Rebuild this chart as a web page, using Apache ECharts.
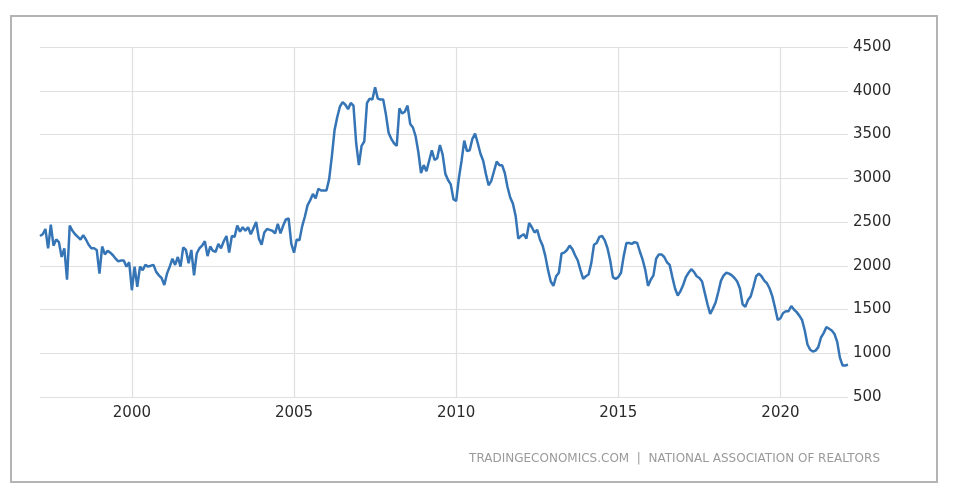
<!DOCTYPE html>
<html>
<head>
<meta charset="utf-8">
<script src="https://cdn.jsdelivr.net/npm/echarts@6/dist/echarts.min.js"></script>
<style>html,body{margin:0;padding:0;background:#fff;}#c{width:958px;height:492px;}</style>
</head>
<body>
<div id="c"></div>
<script>
// Monthly series starts March 1997, ends February 2022
const startYear = 1997, startMonth = 3;
const tickYears = ['2000', '2005', '2010', '2015', '2020'];
const yTicks = [500, 1000, 1500, 2000, 2500, 3000, 3500, 4000, 4500];
const source = 'TRADINGECONOMICS.COM  |  NATIONAL ASSOCIATION OF REALTORS';

const values1997 = [2340, 2360, 2420, 2200, 2470, 2230, 2300, 2270, 2100, 2200]; // Mar-Dec 1997
const values = [].concat(
  values1997,
  [1840, 2460, 2400, 2360, 2330, 2300, 2350, 2300, 2240, 2200, 2200, 2180], // 1998
  [1910, 2220, 2130, 2170, 2150, 2120, 2080, 2050, 2060, 2060, 1990, 2040], // 1999
  [1720, 1990, 1760, 1990, 1950, 2010, 1990, 2000, 2010, 1930, 1890, 1860], // 2000
  [1780, 1910, 1990, 2080, 2010, 2100, 1990, 2210, 2180, 2030, 2180, 1890], // 2001
  [2140, 2200, 2230, 2280, 2110, 2220, 2170, 2160, 2250, 2200, 2280, 2340], // 2002
  [2150, 2340, 2330, 2460, 2390, 2440, 2400, 2440, 2360, 2430, 2500, 2310], // 2003
  [2240, 2380, 2420, 2410, 2400, 2370, 2480, 2370, 2460, 2530, 2540, 2250], // 2004
  [2150, 2300, 2290, 2450, 2560, 2690, 2750, 2820, 2770, 2880, 2860, 2860], // 2005
  [2860, 2990, 3250, 3550, 3700, 3820, 3870, 3840, 3790, 3860, 3830, 3400], // 2006
  [3150, 3370, 3420, 3860, 3910, 3900, 4040, 3910, 3900, 3900, 3730, 3520], // 2007
  [3450, 3400, 3370, 3800, 3740, 3760, 3830, 3620, 3580, 3480, 3300, 3060], // 2008
  [3150, 3080, 3200, 3320, 3210, 3230, 3380, 3270, 3050, 2980, 2930, 2760], // 2009
  [2740, 3000, 3200, 3430, 3310, 3320, 3450, 3510, 3400, 3280, 3200, 3050], // 2010
  [2920, 2970, 3080, 3190, 3150, 3150, 3060, 2900, 2780, 2710, 2570, 2310], // 2011
  [2340, 2360, 2310, 2490, 2440, 2380, 2410, 2300, 2230, 2110, 1950, 1820], // 2012
  [1770, 1880, 1920, 2140, 2150, 2180, 2230, 2190, 2120, 2060, 1950, 1850], // 2013
  [1880, 1900, 2030, 2240, 2260, 2330, 2340, 2290, 2200, 2060, 1870, 1850], // 2014
  [1870, 1920, 2110, 2260, 2260, 2250, 2270, 2260, 2160, 2070, 1950, 1770], // 2015
  [1840, 1890, 2080, 2130, 2130, 2100, 2040, 2010, 1870, 1740, 1660, 1710], // 2016
  [1780, 1870, 1920, 1960, 1930, 1880, 1860, 1820, 1690, 1560, 1450, 1510], // 2017
  [1580, 1700, 1830, 1890, 1920, 1910, 1890, 1860, 1820, 1740, 1560, 1530], // 2018
  [1610, 1650, 1760, 1880, 1910, 1880, 1830, 1800, 1740, 1650, 1520, 1380], // 2019
  [1400, 1460, 1480, 1480, 1540, 1500, 1470, 1430, 1380, 1260, 1100, 1040], // 2020
  [1020, 1030, 1070, 1180, 1230, 1300, 1280, 1260, 1220, 1130, 950, 860],   // 2021
  [860, 870]                                                                // 2022
);

const categories = values.map((v, i) => {
  const t = (startMonth - 1) + i;
  const y = startYear + Math.floor(t / 12);
  const m = (t % 12) + 1;
  return y + '-' + (m < 10 ? '0' + m : m);
});

const isTick = (idx, val) => val.slice(5) === '01' && tickYears.indexOf(val.slice(0, 4)) >= 0;

const chart = echarts.init(document.getElementById('c'), null, {renderer: 'canvas'});
chart.setOption({
  animation: false,
  backgroundColor: '#fff',
  grid: {left: 40, right: 110, top: 47, bottom: 95},
  xAxis: {
    type: 'category',
    data: categories,
    boundaryGap: false,
    axisLine: {show: false},
    axisTick: {show: false},
    axisLabel: {
      interval: isTick,
      formatter: v => v.slice(0, 4),
      color: '#2b2b2b',
      fontFamily: 'DejaVu Sans',
      fontSize: 15,
      margin: 9
    },
    splitLine: {show: true, interval: isTick, lineStyle: {color: '#e0e0e0', width: 1.2}}
  },
  yAxis: {
    type: 'value',
    position: 'right',
    min: yTicks[0],
    max: yTicks[yTicks.length - 1],
    interval: 500,
    axisLine: {show: false},
    axisTick: {show: false},
    axisLabel: {color: '#2b2b2b', fontFamily: 'DejaVu Sans', fontSize: 15, margin: 5,
                formatter: v => String(v)},
    splitLine: {show: true, lineStyle: {color: '#e0e0e0', width: 1.2}}
  },
  series: [{
    type: 'line',
    data: values,
    showSymbol: false,
    symbol: 'none',
    lineStyle: {color: '#3575b6', width: 2.5},
    itemStyle: {color: '#3575b6'}
  }],
  graphic: [
    {type: 'rect', shape: {x: 11, y: 16, width: 926, height: 466},
     style: {fill: 'none', stroke: '#b4b4b4', lineWidth: 2}, silent: true},
    {type: 'text', right: 78, top: 453,
     style: {text: source, fill: '#9a9a9a', font: '12px "DejaVu Sans"'}}
  ]
});
</script>
</body>
</html>
